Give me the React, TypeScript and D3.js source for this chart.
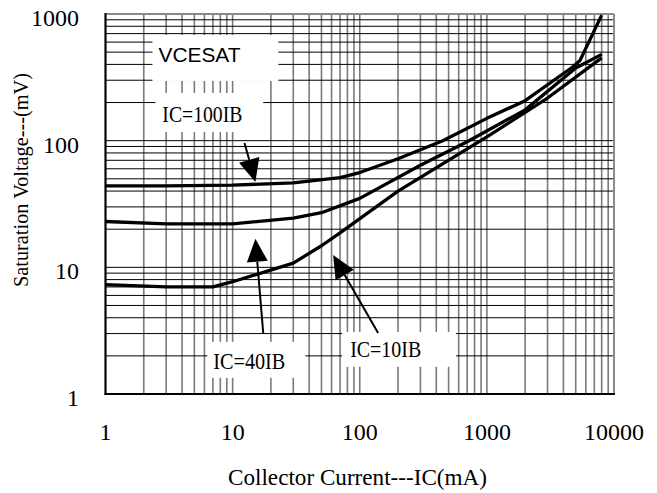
import React from "react";
import * as d3 from "d3";

// ---- data (mA -> mV) ----
const ic100X = [1, 3, 10, 30, 70, 100, 200, 450, 1000, 2000, 4700, 5400, 8000];
const ic100Y = [44, 44, 44.5, 46.5, 51, 56, 72, 100, 150, 207, 380, 430, 980];

const ic40X = [1, 3, 10, 30, 50, 100, 300, 700, 2000, 5000, 8000];
const ic40Y = [23, 22, 22, 24.5, 27, 35, 64, 98, 175, 375, 480];

const ic10X = [1, 3, 7, 10, 30, 50, 70, 200, 1000, 3000, 8000];
const ic10Y = [7.3, 7.0, 7.0, 7.7, 10.8, 14.8, 18.7, 40, 107, 217, 450];

const xTickLabels = ["1", "10", "100", "1000", "10000"];
const yTickLabels = ["1", "10", "100", "1000"];

const seriesNames = ["IC=100IB", "IC=40IB", "IC=10IB"];
const chartTitle = "VCESAT";
const xTitle = "Collector Current---IC(mA)";
const yTitle = "Saturation Voltage---(mV)";

// annotation geometry in data units
const arrows = [
  { tail: [12.4, 95.9], tip: [15.1, 47.2] },
  { tail: [17.4, 3.03], tip: [15.1, 16.8] },
  { tail: [139.5, 3.03], tip: [61.8, 12.5] },
];
const boxes = [
  { x0: 2.34, x1: 22.9, y0: 682, y1: 296 },
  { x0: 2.47, x1: 17.4, y0: 238, y1: 117 },
  { x0: 6.33, x1: 37.3, y0: 2.58, y1: 1.34 },
  { x0: 72.7, x1: 572, y0: 3.09, y1: 1.64 },
];
const labelPos = [
  { x: 2.8, y: 140.6, w: 80 },
  { x: 7.05, y: 1.58, w: 72 },
  { x: 84.1, y: 1.96, w: 71 },
];

const W = 657;
const H = 493;
const L = 105.5;
const R = 614;
const T = 14;
const B = 394;

export default function App() {
  const x = d3.scaleLog().domain([1, 10000]).range([L, R]);
  const y = d3.scaleLog().domain([1, 1000]).range([B, T]);

  const xGrid: number[] = [];
  for (let k = 0; k < 4; k++) for (let m = 1; m < 10; m++) xGrid.push(m * Math.pow(10, k));
  xGrid.push(10000);
  const yGrid: number[] = [];
  for (let k = 0; k < 3; k++) for (let m = 1; m < 10; m++) yGrid.push(m * Math.pow(10, k));
  yGrid.push(1000);

  const line = d3
    .line<[number, number]>()
    .x((d) => x(d[0]))
    .y((d) => y(d[1]))
    .curve(d3.curveLinear);

  const series = [
    ic100X.map((v, i) => [v, ic100Y[i]] as [number, number]),
    ic40X.map((v, i) => [v, ic40Y[i]] as [number, number]),
    ic10X.map((v, i) => [v, ic10Y[i]] as [number, number]),
  ];

  const serif = "'Liberation Serif', 'Times New Roman', serif";
  const sans = "'Liberation Sans', Arial, sans-serif";

  const arrowEls = arrows.map((a, i) => {
    const x1 = x(a.tail[0]);
    const y1 = y(a.tail[1]);
    const x2 = x(a.tip[0]);
    const y2 = y(a.tip[1]);
    const dx = x2 - x1;
    const dy = y2 - y1;
    const len = Math.hypot(dx, dy);
    const ux = dx / len;
    const uy = dy / len;
    const hl = 23;
    const hw = 10.5;
    const bx = x2 - ux * hl;
    const by = y2 - uy * hl;
    const p1 = [bx - uy * hw, by + ux * hw];
    const p2 = [bx + uy * hw, by - ux * hw];
    return (
      <g key={"arr" + i}>
        <line x1={x1} y1={y1} x2={bx} y2={by} stroke="#000" strokeWidth={2} />
        <polygon points={`${x2},${y2} ${p1[0]},${p1[1]} ${p2[0]},${p2[1]}`} fill="#000" />
      </g>
    );
  });

  return (
    <svg
      width={W}
      height={H}
      viewBox={`0 0 ${W} ${H}`}
      style={{ position: "absolute", left: 0, top: 0, background: "#fff" }}
    >
      <rect x={0} y={0} width={W} height={H} fill="#fff" />
      {/* grid */}
      {xGrid.map((v, i) => (
        <line key={"vx" + i} x1={x(v)} x2={x(v)} y1={T} y2={B} stroke="#7a7a7a" strokeWidth={1.6} />
      ))}
      {yGrid.map((v, i) => (
        <line key={"hy" + i} x1={L} x2={R} y1={y(v)} y2={y(v)} stroke="#000" strokeWidth={1} />
      ))}
      {/* frame */}
      <line x1={L} x2={R} y1={T} y2={T} stroke="#8a8a8a" strokeWidth={2} />
      <line x1={R} x2={R} y1={T} y2={B} stroke="#8a8a8a" strokeWidth={2} />
      <line x1={L} x2={L} y1={T - 1} y2={B + 1} stroke="#000" strokeWidth={2} />
      <line x1={L - 1} x2={R + 1} y1={B} y2={B} stroke="#000" strokeWidth={2} />

      {/* label boxes */}
      {boxes.map((b, i) => (
        <rect
          key={"box" + i}
          x={x(b.x0)}
          y={y(b.y0)}
          width={x(b.x1) - x(b.x0)}
          height={y(b.y1) - y(b.y0)}
          fill="#fff"
        />
      ))}

      {/* curves */}
      {series.map((s, i) => (
        <path
          key={"s" + i}
          d={line(s) || ""}
          fill="none"
          stroke="#000"
          strokeWidth={3.3}
          strokeLinejoin="round"
          strokeLinecap="butt"
        />
      ))}

      {arrowEls}

      {/* labels */}
      <text
        x={x(2.61)}
        y={y(418)}
        fontFamily={sans}
        fontSize={21}
        textLength={82}
        lengthAdjust="spacingAndGlyphs"
        fill="#000"
      >
        {chartTitle}
      </text>
      {labelPos.map((p, i) => (
        <text
          key={"lab" + i}
          x={x(p.x)}
          y={y(p.y)}
          fontFamily={serif}
          fontSize={24}
          textLength={p.w}
          lengthAdjust="spacingAndGlyphs"
          fill="#000"
        >
          {seriesNames[i]}
        </text>
      ))}

      {/* tick labels */}
      {yTickLabels.map((t, i) => (
        <text
          key={"yt" + i}
          x={79}
          y={y(+t) + 12}
          textAnchor="end"
          fontFamily={serif}
          fontSize={24}
          fill="#000"
        >
          {t}
        </text>
      ))}
      {xTickLabels.map((t, i) => (
        <text
          key={"xt" + i}
          x={x(+t)}
          y={440}
          textAnchor="middle"
          fontFamily={serif}
          fontSize={24}
          fill="#000"
        >
          {t}
        </text>
      ))}

      {/* axis titles */}
      <text
        x={357.5}
        y={485}
        textAnchor="middle"
        fontFamily={serif}
        fontSize={23}
        textLength={259}
        lengthAdjust="spacingAndGlyphs"
        fill="#000"
      >
        {xTitle}
      </text>
      <text
        transform={`translate(28,180) rotate(-90)`}
        textAnchor="middle"
        fontFamily={serif}
        fontSize={22}
        textLength={214}
        lengthAdjust="spacingAndGlyphs"
        fill="#000"
      >
        {yTitle}
      </text>
    </svg>
  );
}
